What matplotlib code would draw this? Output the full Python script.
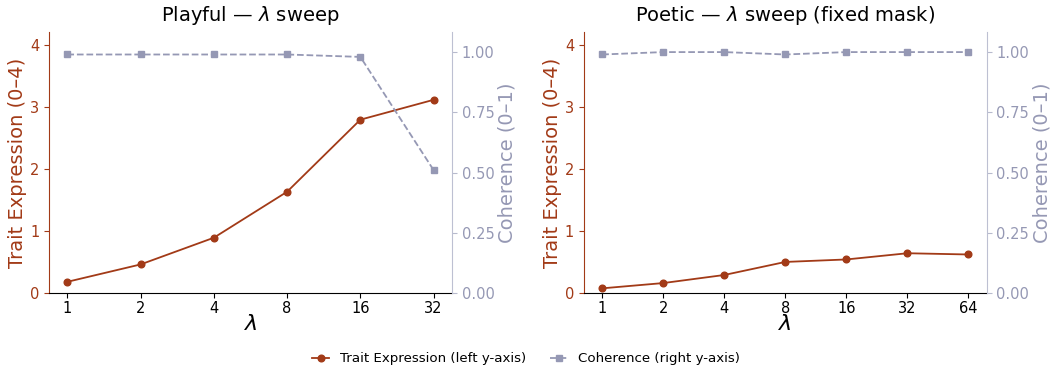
import matplotlib.pyplot as plt
import numpy as np

# data
playful_lambdas = [1, 2, 4, 8, 16, 32]
playful_trait = [0.18, 0.46, 0.89, 1.63, 2.79, 3.11]
playful_coh = [0.99, 0.99, 0.99, 0.99, 0.98, 0.51]

poetic_lambdas = [1, 2, 4, 8, 16, 32, 64]
poetic_trait = [0.075, 0.16, 0.29, 0.50, 0.54, 0.64, 0.62]
poetic_coh = [0.99, 1.00, 1.00, 0.99, 1.00, 1.00, 1.00]

trait_ticks = [0, 1, 2, 3, 4]
coh_ticks = [0.0, 0.25, 0.5, 0.75, 1.0]

brown = '#A23A17'
grey = '#9598B4'

fig = plt.figure(figsize=(10.52, 3.68), dpi=100)
ax1 = fig.add_axes([0.0466, 0.2038, 0.383, 0.709])
ax2 = fig.add_axes([0.555, 0.2038, 0.383, 0.709])

panels = [
    (ax1, playful_lambdas, playful_trait, playful_coh, r'Playful — $\lambda$ sweep'),
    (ax2, poetic_lambdas, poetic_trait, poetic_coh, r'Poetic — $\lambda$ sweep (fixed mask)'),
]

for ax, lams, trait, coh, title in panels:
    pos = np.arange(len(lams))
    l1, = ax.plot(pos, trait, color=brown, lw=1.3, marker='o', ms=4.8,
                  label='Trait Expression (left y-axis)')
    ax.set_ylim(0, 4.2)
    ax.set_yticks(trait_ticks)
    ax.set_xticks(pos)
    ax.set_xticklabels([str(v) for v in lams])
    ax.set_xlabel(r'$\lambda$', fontsize=16, labelpad=-1)
    ax.set_ylabel('Trait Expression (0–4)', color=brown, fontsize=14, labelpad=2)
    ax.set_title(title, fontsize=14, pad=8)
    ax.tick_params(axis='y', colors=brown, labelsize=10.5)
    ax.tick_params(axis='x', labelsize=10.5, pad=2)
    ax.spines['top'].set_visible(False)
    ax.spines['right'].set_visible(False)
    ax.spines['left'].set_color(brown)

    axr = ax.twinx()
    l2, = axr.plot(pos, coh, color=grey, lw=1.3, ls='--', marker='s', ms=4.8,
                   label='Coherence (right y-axis)')
    axr.set_ylim(0, 1.083)
    axr.set_yticks(coh_ticks)
    axr.set_yticklabels([f'{v:.2f}' for v in coh_ticks])
    axr.set_ylabel('Coherence (0–1)', color=grey, fontsize=14, labelpad=2)
    axr.tick_params(axis='y', colors='#B7BACD', labelcolor=grey, labelsize=10.5)
    for s in ['top', 'left', 'bottom']:
        axr.spines[s].set_visible(False)
    axr.spines['right'].set_color('#BDC0D2')

fig.legend([l1, l2], [l1.get_label(), l2.get_label()], loc='lower center',
           bbox_to_anchor=(0.5, -0.025), ncol=2, frameon=False, fontsize=9.6,
           handlelength=1.3, columnspacing=1.8)

fig.savefig('out.png', dpi=100)
